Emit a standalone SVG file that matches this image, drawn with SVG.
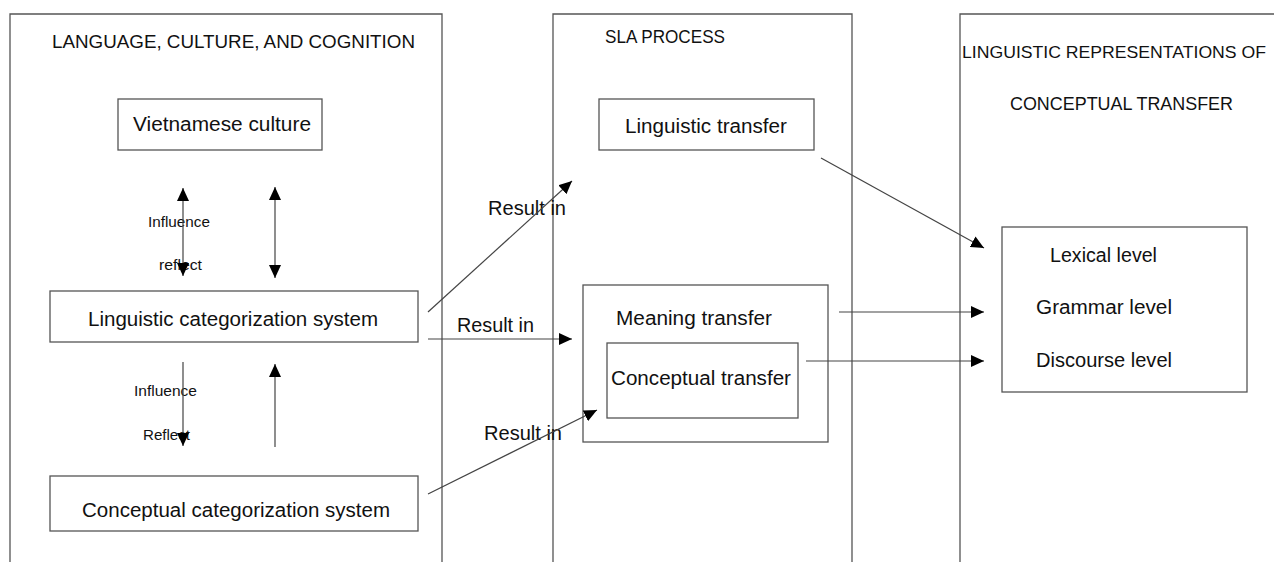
<svg xmlns="http://www.w3.org/2000/svg" width="1274" height="562" viewBox="0 0 1274 562">
  <style>
    .frame { fill: none; stroke: #555; stroke-width: 1.3; }
    .box { fill: #fff; stroke: #555; stroke-width: 1.3; }
    .conn { fill: none; stroke: #444; stroke-width: 1.2; }
    .t { font-family: "Liberation Sans", Arial, sans-serif; font-size: 19.5px; fill: #111; }
    .h { font-family: "Liberation Sans", Arial, sans-serif; font-size: 18.5px; fill: #111; }
    .s { font-family: "Liberation Sans", Arial, sans-serif; font-size: 14.5px; fill: #111; }
  </style>
  <defs>
    <marker id="head" markerUnits="userSpaceOnUse" markerWidth="14" markerHeight="12" refX="13" refY="6" orient="auto-start-reverse">
      <path d="M0,0 L13,6 L0,12 z" fill="#000"/>
    </marker>
  </defs>
  <rect width="1274" height="562" fill="#fff"/>

  <!-- column frames, open at the bottom -->
  <g id="panel-language">
    <path class="frame" d="M10,562 V14 H442 V562"/>
    <text class="h" x="52" y="48" textLength="363" lengthAdjust="spacingAndGlyphs">LANGUAGE, CULTURE, AND COGNITION</text>
  </g>
  <g id="panel-sla">
    <path class="frame" d="M553,562 V14 H852 V562"/>
    <text class="h" x="605" y="43" textLength="120" lengthAdjust="spacingAndGlyphs">SLA PROCESS</text>
  </g>
  <g id="panel-representations">
    <path class="frame" d="M960,562 V14 H1274"/>
    <text class="h" x="962" y="58" style="font-size:16.5px" textLength="304" lengthAdjust="spacingAndGlyphs">LINGUISTIC REPRESENTATIONS OF</text>
    <text class="h" x="1010" y="110" textLength="223" lengthAdjust="spacingAndGlyphs">CONCEPTUAL TRANSFER</text>
  </g>

  <!-- left column nodes -->
  <g id="vietnamese-culture">
    <rect class="box" x="118" y="99" width="204" height="51"/>
    <text class="t" x="133" y="131" textLength="178" lengthAdjust="spacingAndGlyphs">Vietnamese culture</text>
  </g>
  <g id="linguistic-categorization">
    <rect class="box" x="50" y="291" width="368" height="51"/>
    <text class="t" x="88" y="326" textLength="290" lengthAdjust="spacingAndGlyphs">Linguistic categorization system</text>
  </g>
  <g id="conceptual-categorization">
    <rect class="box" x="50" y="476" width="368" height="55"/>
    <text class="t" x="82" y="517" textLength="308" lengthAdjust="spacingAndGlyphs">Conceptual categorization system</text>
  </g>

  <!-- middle column nodes -->
  <g id="linguistic-transfer">
    <rect class="box" x="599" y="99" width="215" height="51"/>
    <text class="t" x="625" y="133" textLength="162" lengthAdjust="spacingAndGlyphs">Linguistic transfer</text>
  </g>
  <g id="meaning-transfer">
    <rect class="box" x="583" y="285" width="245" height="157"/>
    <text class="t" x="616" y="325" textLength="156" lengthAdjust="spacingAndGlyphs">Meaning transfer</text>
  </g>
  <g id="conceptual-transfer">
    <rect class="box" x="607" y="343" width="191" height="75"/>
    <text class="t" x="611" y="385" textLength="180" lengthAdjust="spacingAndGlyphs">Conceptual transfer</text>
  </g>

  <!-- right column node -->
  <g id="levels">
    <rect class="box" x="1002" y="227" width="245" height="165"/>
    <text class="t" x="1050" y="262" textLength="107" lengthAdjust="spacingAndGlyphs">Lexical level</text>
    <text class="t" x="1036" y="314" textLength="136" lengthAdjust="spacingAndGlyphs">Grammar level</text>
    <text class="t" x="1036" y="367" textLength="136" lengthAdjust="spacingAndGlyphs">Discourse level</text>
  </g>

  <!-- edge labels -->
  <g id="labels">
    <text class="s" x="148" y="227" textLength="62" lengthAdjust="spacingAndGlyphs">Influence</text>
    <text class="s" x="159" y="270" textLength="43" lengthAdjust="spacingAndGlyphs">reflect</text>
    <text class="s" x="134" y="396" textLength="63" lengthAdjust="spacingAndGlyphs">Influence</text>
    <text class="s" x="143" y="440" textLength="47" lengthAdjust="spacingAndGlyphs">Reflect</text>
    <text class="t" x="488" y="215" textLength="78" lengthAdjust="spacingAndGlyphs">Result in</text>
    <text class="t" x="457" y="332" textLength="77" lengthAdjust="spacingAndGlyphs">Result in</text>
    <text class="t" x="484" y="440" textLength="78" lengthAdjust="spacingAndGlyphs">Result in</text>
  </g>

  <!-- connectors -->
  <g id="connectors">
    <line class="conn" x1="183" y1="188" x2="183" y2="276" marker-start="url(#head)" marker-end="url(#head)"/>
    <line class="conn" x1="275" y1="187" x2="275" y2="278" marker-start="url(#head)" marker-end="url(#head)"/>
    <line class="conn" x1="183" y1="362" x2="183" y2="446" marker-end="url(#head)"/>
    <line class="conn" x1="275" y1="447" x2="275" y2="364" marker-end="url(#head)"/>
    <line class="conn" x1="428" y1="312" x2="572" y2="181" marker-end="url(#head)"/>
    <line class="conn" x1="428" y1="339" x2="572" y2="339" marker-end="url(#head)"/>
    <line class="conn" x1="428" y1="494" x2="597" y2="410" marker-end="url(#head)"/>
    <line class="conn" x1="821" y1="158" x2="984" y2="248" marker-end="url(#head)"/>
    <line class="conn" x1="839" y1="312" x2="984" y2="312" marker-end="url(#head)"/>
    <line class="conn" x1="806" y1="361" x2="984" y2="361" marker-end="url(#head)"/>
  </g>
</svg>
